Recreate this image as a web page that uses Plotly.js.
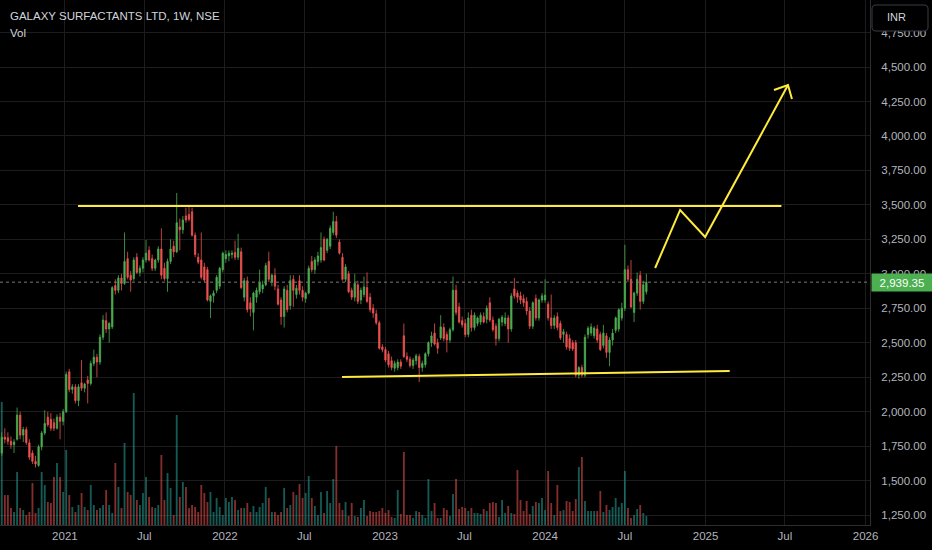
<!DOCTYPE html>
<html>
<head>
<meta charset="utf-8">
<script src="https://cdn.plot.ly/plotly-3.0.1.min.js"></script>
<style>
html,body{margin:0;padding:0;background:#000;}
#chart{width:932px;height:550px;}
</style>
</head>
<body>
<div id="chart"></div>
<script>
// Weekly candles, first week starting 2020-08-10
const firstWeek = '2020-08-10';

const openP = [
1700,1815,1810,1785,1760,1800,1975,1830,1870,1775,
1700,1640,1610,1745,1845,1960,1945,1920,1880,1960,
1930,2000,2290,2160,2180,2080,2210,2170,2230,2205,
2350,2395,2360,2540,2660,2600,2615,2915,2880,2970,
2930,3110,2990,2965,3120,3010,3040,3100,3170,3110,
3040,3100,3180,3040,2965,3090,3200,3160,3340,3320,
3420,3430,3450,3280,3120,3100,3050,3030,2800,2840,
2880,2910,3030,3110,3130,3140,3155,3120,3160,2830,
2950,2790,2720,2830,2870,2890,2920,3090,2940,2990,
2890,2810,2690,2880,2770,2960,2850,2950,2880,2820,
2860,3090,3030,3090,3100,3250,3170,3200,3300,3380,
3230,3120,2960,3000,2880,2830,2920,2810,2850,2900,
2830,2750,2710,2645,2470,2450,2420,2370,2315,2320,
2360,2550,2400,2380,2335,2370,2400,2320,2340,2420,
2500,2570,2500,2535,2610,2560,2520,2595,2880,2760,
2660,2640,2560,2700,2610,2640,2650,2690,2670,2790,
2665,2620,2530,2650,2640,2680,2600,2890,2860,2840,
2820,2800,2730,2620,2820,2680,2810,2810,2780,2680,
2625,2690,2640,2560,2560,2530,2500,2500,2265,2320,
2265,2560,2570,2550,2600,2560,2480,2550,2430,2520,
2590,2600,2680,2750,3030,2960,2720,2860,2990,2800,
2870];

const highP = [
1850,1880,1850,1820,1800,2030,2000,1890,1890,1800,
1720,1680,1760,1860,2010,2000,1990,1950,1980,1990,
2020,2290,2310,2200,2200,2200,2375,2210,2260,2370,
2450,2420,2560,2700,2720,2650,2910,2960,2990,3000,
3300,3160,3020,3120,3150,3060,3120,3245,3200,3140,
3110,3200,3330,3080,3110,3250,3240,3586,3400,3420,
3480,3500,3480,3300,3150,3300,3080,3050,2850,2880,
2990,3050,3160,3170,3170,3170,3240,3290,3190,2970,
2980,2830,2870,2900,3030,2950,3080,3160,3000,3040,
2920,2830,2910,2920,2990,2990,2920,2990,2910,2870,
3060,3130,3120,3160,3300,3270,3260,3350,3450,3420,
3250,3150,3070,3020,2900,3000,2950,2900,2980,3010,
2860,2780,2740,2660,2490,2470,2440,2400,2370,2380,
2380,2640,2430,2400,2390,2420,2420,2370,2430,2510,
2580,2640,2530,2700,2640,2580,2610,2980,2920,2790,
2690,2670,2720,2740,2720,2690,2720,2720,2770,2830,
2690,2640,2680,2700,2720,2700,2860,2970,2880,2870,
2850,2830,2760,2800,2850,2820,2860,2960,2800,2850,
2700,2720,2660,2600,2580,2560,2520,2520,2330,2340,
2560,2620,2640,2620,2630,2580,2630,2570,2540,2600,
2690,2750,2790,3210,3060,3100,2870,3010,3020,2950,
3000];

const lowP = [
1680,1770,1760,1730,1700,1790,1800,1780,1760,1650,
1620,1595,1600,1720,1830,1890,1860,1860,1870,1800,
1900,1990,2140,2130,2060,2040,2150,2140,2060,2190,
2330,2250,2340,2520,2570,2500,2600,2850,2860,2880,
2920,2960,2870,2950,3000,2980,3010,3080,3090,3020,
3020,3080,2960,2950,2870,3070,3120,3150,3170,3290,
3370,3380,3270,3120,3070,2960,2940,2800,2680,2790,
2860,2890,3010,3080,3090,3110,3100,3100,2890,2800,
2720,2690,2590,2790,2850,2860,2910,2940,2910,2880,
2770,2630,2610,2720,2740,2760,2820,2850,2800,2790,
2850,3010,3000,3060,3080,3090,3150,3180,3280,3260,
3140,2950,2940,2860,2810,2800,2780,2780,2830,2790,
2720,2680,2630,2450,2430,2360,2320,2300,2290,2300,
2310,2390,2360,2320,2310,2340,2215,2290,2320,2400,
2470,2480,2420,2520,2510,2430,2500,2580,2700,2640,
2610,2540,2540,2580,2590,2620,2630,2640,2640,2650,
2580,2480,2510,2620,2620,2500,2580,2820,2790,2780,
2760,2700,2600,2600,2660,2660,2790,2790,2660,2600,
2600,2590,2520,2500,2450,2440,2440,2250,2240,2250,
2250,2530,2550,2530,2500,2440,2460,2390,2330,2480,
2570,2580,2660,2730,2940,2750,2650,2840,2740,2780,
2850];

const closeP = [
1815,1800,1785,1760,1780,1975,1830,1870,1775,1670,
1640,1620,1745,1845,1915,1905,1880,1880,1960,1930,
2000,2270,2160,2180,2080,2180,2170,2200,2205,2350,
2395,2360,2540,2665,2600,2640,2900,2880,2970,2930,
3090,2975,2955,3100,3010,3040,3100,3150,3100,3040,
3100,3180,2990,2965,3090,3180,3160,3370,3320,3390,
3390,3395,3280,3140,3085,2975,2955,2810,2840,2860,
2975,3040,3150,3140,3150,3150,3120,3185,2900,2950,
2740,2745,2860,2880,2935,2920,3060,2960,2990,2910,
2780,2690,2890,2740,2950,2880,2895,2880,2830,2860,
3040,3030,3100,3130,3190,3100,3250,3330,3380,3280,
3150,2960,3050,2870,2830,2930,2800,2880,2905,2800,
2740,2715,2645,2460,2450,2375,2340,2320,2350,2360,
2330,2400,2380,2335,2375,2405,2320,2350,2420,2500,
2550,2490,2460,2615,2530,2520,2595,2880,2720,2650,
2630,2560,2680,2610,2700,2680,2700,2650,2750,2665,
2595,2530,2670,2685,2680,2600,2840,2840,2830,2810,
2790,2730,2620,2790,2680,2810,2840,2845,2680,2625,
2680,2610,2535,2580,2470,2460,2455,2265,2320,2265,
2540,2605,2615,2605,2520,2450,2570,2430,2520,2570,
2680,2740,2750,3030,2960,2760,2860,2960,2800,2920,
2939.35];

// weekly volume, thousand shares (relative)
const volume = [
123,30,30,17,13,53,17,15,10,13,
42,12,17,53,40,23,22,48,62,48,
33,75,30,18,13,20,32,18,15,40,
20,15,17,20,35,20,12,62,38,17,
82,33,30,132,25,20,32,48,28,18,
17,20,70,25,52,37,10,110,28,43,
38,17,20,18,13,40,32,23,33,13,
27,18,10,27,23,28,25,15,17,17,
22,13,19,13,18,22,38,27,13,13,
10,13,37,17,20,
33,30,41,27,32,49,27,19,10,33,
12,34,22,46,79,22,15,23,9,22,
9,8,17,25,9,14,13,13,14,17,
12,15,8,7,35,11,73,10,10,7,
14,13,10,7,46,14,22,7,7,17,
15,9,31,46,16,18,17,14,17,12,
12,11,16,14,22,23,22,8,25,12,
19,12,11,55,25,14,24,11,19,23,
22,27,15,54,22,10,40,14,15,24,
23,14,26,58,68,24,14,14,14,14,
34,13,20,15,18,27,18,22,54,17,
7,10,16,20,12,9];

// drawings (date, price)
const resistX = ['2021-01-31','2025-06-23'];
const resistY = [3492, 3492];
const supportX = ['2022-09-25','2025-02-25'];
const supportY = [2251, 2295];
const pathX = ['2024-09-08','2024-11-04','2024-12-31','2025-07-08'];
const pathY = [3042, 3463, 3267, 4369];
const headX = ['2025-06-06','2025-07-08','2025-07-17'];
const headY = [4333, 4369, 4268];

const tickDates = ['2021-01-01','2021-07-01','2022-01-01','2022-07-01','2023-01-01','2023-07-01','2024-01-01','2024-07-01','2025-01-01','2025-07-01','2026-01-01'];
const tickText = ['2021','Jul','2022','Jul','2023','Jul','2024','Jul','2025','Jul','2026'];

const UP = '#4caf50', DOWN = '#ef5350';
const YEL = '#ffeb3b';

const t0 = Date.parse(firstWeek + 'T00:00:00Z');
const dates = closeP.map((_, i) => new Date(t0 + i * 7 * 864e5).toISOString().slice(0, 10));
const volColors = closeP.map((c, i) => c >= openP[i] ? 'rgba(38,166,154,0.55)' : 'rgba(239,83,80,0.55)');
const last = closeP[closeP.length - 1];

const font = 'Liberation Sans, Arial, sans-serif';

// rounded INR button outline (paper coordinates)
const W = 870, H = 525;
function px(x){return (x / W).toFixed(5);}
function py(y){return (1 - y / H).toFixed(5);}
const bx0 = 872, bx1 = 928, by0 = 5, by1 = 31, r = 4;
const btnPath = 'M' + px(bx0 + r) + ',' + py(by0) +
  ' L' + px(bx1 - r) + ',' + py(by0) + ' Q' + px(bx1) + ',' + py(by0) + ' ' + px(bx1) + ',' + py(by0 + r) +
  ' L' + px(bx1) + ',' + py(by1 - r) + ' Q' + px(bx1) + ',' + py(by1) + ' ' + px(bx1 - r) + ',' + py(by1) +
  ' L' + px(bx0 + r) + ',' + py(by1) + ' Q' + px(bx0) + ',' + py(by1) + ' ' + px(bx0) + ',' + py(by1 - r) +
  ' L' + px(bx0) + ',' + py(by0 + r) + ' Q' + px(bx0) + ',' + py(by0) + ' ' + px(bx0 + r) + ',' + py(by0) + ' Z';

const traces = [
  {type:'bar', x:dates, y:volume, marker:{color:volColors, line:{width:0}}, xaxis:'x', yaxis:'y', hoverinfo:'skip'},
  {type:'candlestick', x:dates, open:openP, high:highP, low:lowP, close:closeP, xaxis:'x', yaxis:'y2',
   increasing:{line:{color:UP, width:0.8}, fillcolor:UP},
   decreasing:{line:{color:DOWN, width:0.8}, fillcolor:DOWN},
   whiskerwidth:0, hoverinfo:'skip'},
  {type:'scatter', mode:'lines', x:resistX, y:resistY, xaxis:'x', yaxis:'y2', line:{color:YEL, width:2}, hoverinfo:'skip'},
  {type:'scatter', mode:'lines', x:supportX, y:supportY, xaxis:'x', yaxis:'y2', line:{color:YEL, width:2}, hoverinfo:'skip'},
  {type:'scatter', mode:'lines', x:pathX, y:pathY, xaxis:'x', yaxis:'y2', line:{color:YEL, width:2}, hoverinfo:'skip'},
  {type:'scatter', mode:'lines', x:headX, y:headY, xaxis:'x', yaxis:'y2', line:{color:YEL, width:2}, hoverinfo:'skip'}
];

const layout = {
  width:932, height:550,
  margin:{l:0, r:62, t:0, b:25},
  paper_bgcolor:'#000', plot_bgcolor:'#000',
  showlegend:false,
  boxgap:0.38, bargap:0.4,
  xaxis:{
    type:'date', range:['2020-08-06','2026-01-11'],
    rangeslider:{visible:false},
    tickmode:'array', tickvals:tickDates, ticktext:tickText,
    showgrid:true, gridcolor:'#1c1c1c', gridwidth:1,
    showline:true, linecolor:'#2e2e2e', linewidth:1,
    ticks:'', tickfont:{family:font, size:11.5, color:'#b2b5be'},
    zeroline:false, fixedrange:true
  },
  yaxis:{
    range:[0, 525], visible:false, showgrid:false, zeroline:false, fixedrange:true
  },
  yaxis2:{
    overlaying:'y', side:'right', range:[1178, 4986],
    tickmode:'linear', tick0:0, dtick:250, tickformat:',.2f',
    showgrid:true, gridcolor:'#1c1c1c', gridwidth:1,
    showline:true, linecolor:'#2e2e2e', linewidth:1,
    ticks:'', ticklabelstandoff:8,
    tickfont:{family:font, size:11.5, color:'#b2b5be'},
    zeroline:false, fixedrange:true
  },
  shapes:[
    {type:'line', xref:'paper', x0:0, x1:1, yref:'y2', y0:last, y1:last, line:{color:'#7a7a7a', width:1, dash:'dot'}, layer:'above'},
    {type:'path', xref:'paper', yref:'paper', path:btnPath,
     fillcolor:'#000', line:{color:'#3a3e48', width:1}, layer:'above'}
  ],
  annotations:[
    {xref:'paper', yref:'paper', x:8/870, y:1-16/525, xanchor:'left', yanchor:'middle', showarrow:false,
     text:'GALAXY SURFACTANTS LTD, 1W, NSE', font:{family:font, size:11.5, color:'#d1d4dc'}},
    {xref:'paper', yref:'paper', x:8/870, y:1-33/525, xanchor:'left', yanchor:'middle', showarrow:false,
     text:'Vol', font:{family:font, size:11.5, color:'#d1d4dc'}},
    {xref:'paper', yref:'paper', x:896/870, y:1-17/525, xanchor:'center', yanchor:'middle', showarrow:false,
     text:'INR', font:{family:font, size:11, color:'#d1d4dc'}},
    {xref:'paper', yref:'y2', x:871/870, y:last, xanchor:'left', yanchor:'middle', showarrow:false,
     text:last.toLocaleString('en-US',{minimumFractionDigits:2, maximumFractionDigits:2}),
     bgcolor:UP, width:58, height:15, borderpad:1, align:'center',
     font:{family:font, size:11.5, color:'#ffffff'}}
  ]
};

Plotly.newPlot('chart', traces, layout, {displayModeBar:false, staticPlot:true});
</script>
</body>
</html>
